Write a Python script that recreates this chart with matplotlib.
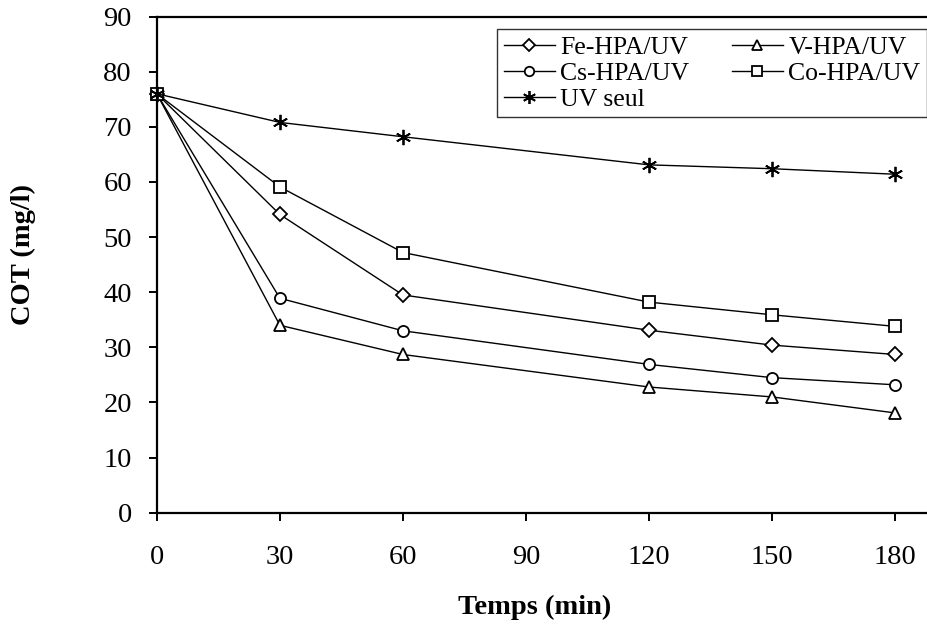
import matplotlib
matplotlib.use("Agg")
import matplotlib.pyplot as plt

# Temps de traitement (min) et COT mesuré (mg/l)
temps = [0, 30, 60, 120, 150, 180]
fe_hpa = [76.0, 54.1, 39.5, 33.1, 30.4, 28.7]
v_hpa = [76.0, 34.0, 28.7, 22.8, 21.0, 18.1]
cs_hpa = [76.0, 38.9, 33.0, 26.9, 24.5, 23.2]
co_hpa = [76.0, 59.1, 47.2, 38.2, 35.9, 33.8]
uv_seul = [76.0, 70.8, 68.2, 63.1, 62.4, 61.4]

x_ticks = [0, 30, 60, 90, 120, 150, 180]
y_ticks = [0, 10, 20, 30, 40, 50, 60, 70, 80, 90]

plt.rcParams["font.family"] = ["Liberation Serif", "DejaVu Serif"]

fig = plt.figure(figsize=(9.28, 6.28), dpi=100)
ax = fig.add_axes([0.169, 0.1836, 0.831, 0.790])

common = dict(color="black", linewidth=1.0, markerfacecolor="white",
              markeredgecolor="black", markeredgewidth=1.3, clip_on=False)

h_fe, = ax.plot(temps, fe_hpa, marker="D", markersize=7, label="Fe-HPA/UV", **common)
h_v, = ax.plot(temps, v_hpa, marker="^", markersize=9, label="V-HPA/UV", **common)
h_cs, = ax.plot(temps, cs_hpa, marker="o", markersize=8, label="Cs-HPA/UV", **common)
h_co, = ax.plot(temps, co_hpa, marker="s", markersize=8, label="Co-HPA/UV", **common)
h_uv, = ax.plot(temps, uv_seul, marker=(6, 2, 0), markersize=11, label="UV seul", **common)

ax.set_xlim(0, 188)
ax.set_ylim(0, 90)
ax.set_xticks(x_ticks)
ax.set_yticks(y_ticks)
ax.tick_params(axis="both", direction="out", length=6, width=1.4,
               labelsize=20.5, colors="black")
ax.tick_params(axis="x", pad=17)
ax.tick_params(axis="y", pad=12)

for side in ("left", "bottom", "top"):
    ax.spines[side].set_linewidth(1.6)
ax.spines["right"].set_visible(False)

ax.set_xlabel("Temps (min)", fontsize=20.5, fontweight="bold",
              va="center", ha="center")
ax.set_ylabel("COT (mg/l)", fontsize=20.5, fontweight="bold",
              va="center", ha="center")
ax.xaxis.set_label_coords(0.49, -0.19)
ax.yaxis.set_label_coords(-0.1725, 0.52)

leg = ax.legend(handles=[h_fe, h_cs, h_uv, h_v, h_co], ncol=2,
                loc="upper right", bbox_to_anchor=(0.9985, 0.9745),
                fontsize=18.5, frameon=True, fancybox=False, edgecolor="black",
                handlelength=2.0, handletextpad=0.2, columnspacing=1.65,
                labelspacing=0.12, borderpad=0.25, borderaxespad=0.0,
                markerscale=0.85)
leg.get_frame().set_linewidth(1.0)

fig.savefig("out.png", dpi=100)
